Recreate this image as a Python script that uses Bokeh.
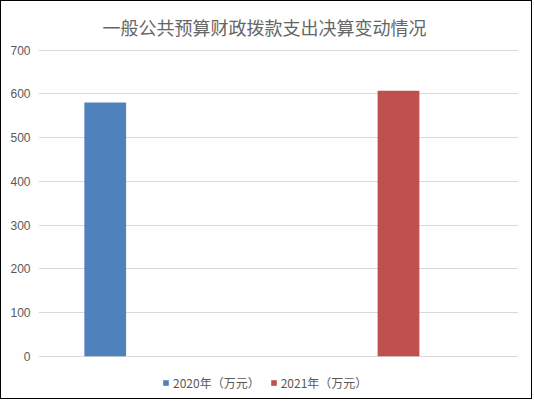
from bokeh.plotting import figure
from bokeh.models import Range1d, FixedTicker, Legend, LegendItem
from bokeh.embed import file_html
from bokeh.resources import INLINE

# data
series_names = ["2020年（万元）", "2021年（万元）"]
values = [580, 607]
colors = ["#4F81BD", "#C0504D"]
y_ticks = [0, 100, 200, 300, 400, 500, 600, 700]
title_text = "一般公共预算财政拨款支出决算变动情况"

# layout constants
bar_pos = [0.139, 0.75]
bar_w = 0.087

p = figure(width=532, height=399, output_backend="svg", toolbar_location=None,
           x_range=Range1d(0, 1), y_range=Range1d(-98.6, 701.4),
           min_border_left=37, min_border_right=15, min_border_top=46, min_border_bottom=1)
p.styles = {"border": "1px solid black"}
p.outline_line_color = None
p.background_fill_color = "white"
p.border_fill_color = "white"

p.title.text = title_text
p.title.align = "left"
p.title.offset = 64
p.title.standoff = 20
p.title.text_font = "Noto Sans CJK SC"
p.title.text_font_size = "18px"
p.title.text_font_style = "normal"
p.title.text_color = "#666666"

renderers = []
for i in range(len(values)):
    r = p.vbar(x=[bar_pos[i]], top=[values[i]], width=bar_w, bottom=0,
               fill_color=colors[i], line_color=None)
    renderers.append(r)

p.xaxis.visible = False
p.xgrid.visible = False
p.yaxis.ticker = FixedTicker(ticks=y_ticks)
p.yaxis.axis_line_color = None
p.yaxis.major_tick_line_color = None
p.yaxis.minor_tick_line_color = None
p.yaxis.major_tick_out = 0
p.yaxis.major_label_standoff = 8
p.yaxis.major_label_text_font = "Liberation Sans"
p.yaxis.major_label_text_font_size = "12px"
p.yaxis.major_label_text_color = "#595959"
p.ygrid.ticker = FixedTicker(ticks=y_ticks)
p.ygrid.grid_line_color = "#D9D9D9"
p.ygrid.grid_line_width = 1

legend = Legend(items=[LegendItem(label=series_names[i], renderers=[renderers[i]]) for i in range(len(values))],
                orientation="horizontal", location=(124, 8))
legend.label_text_font = "Noto Sans CJK SC"
legend.label_text_font_size = "12px"
legend.label_text_color = "#595959"
legend.glyph_width = 7
legend.glyph_height = 7
legend.label_standoff = 4
legend.spacing = 10
legend.padding = 0
legend.margin = 0
legend.border_line_color = None
legend.background_fill_alpha = 0
p.add_layout(legend, "center")

open("out.html", "w").write(file_html(p, INLINE))
